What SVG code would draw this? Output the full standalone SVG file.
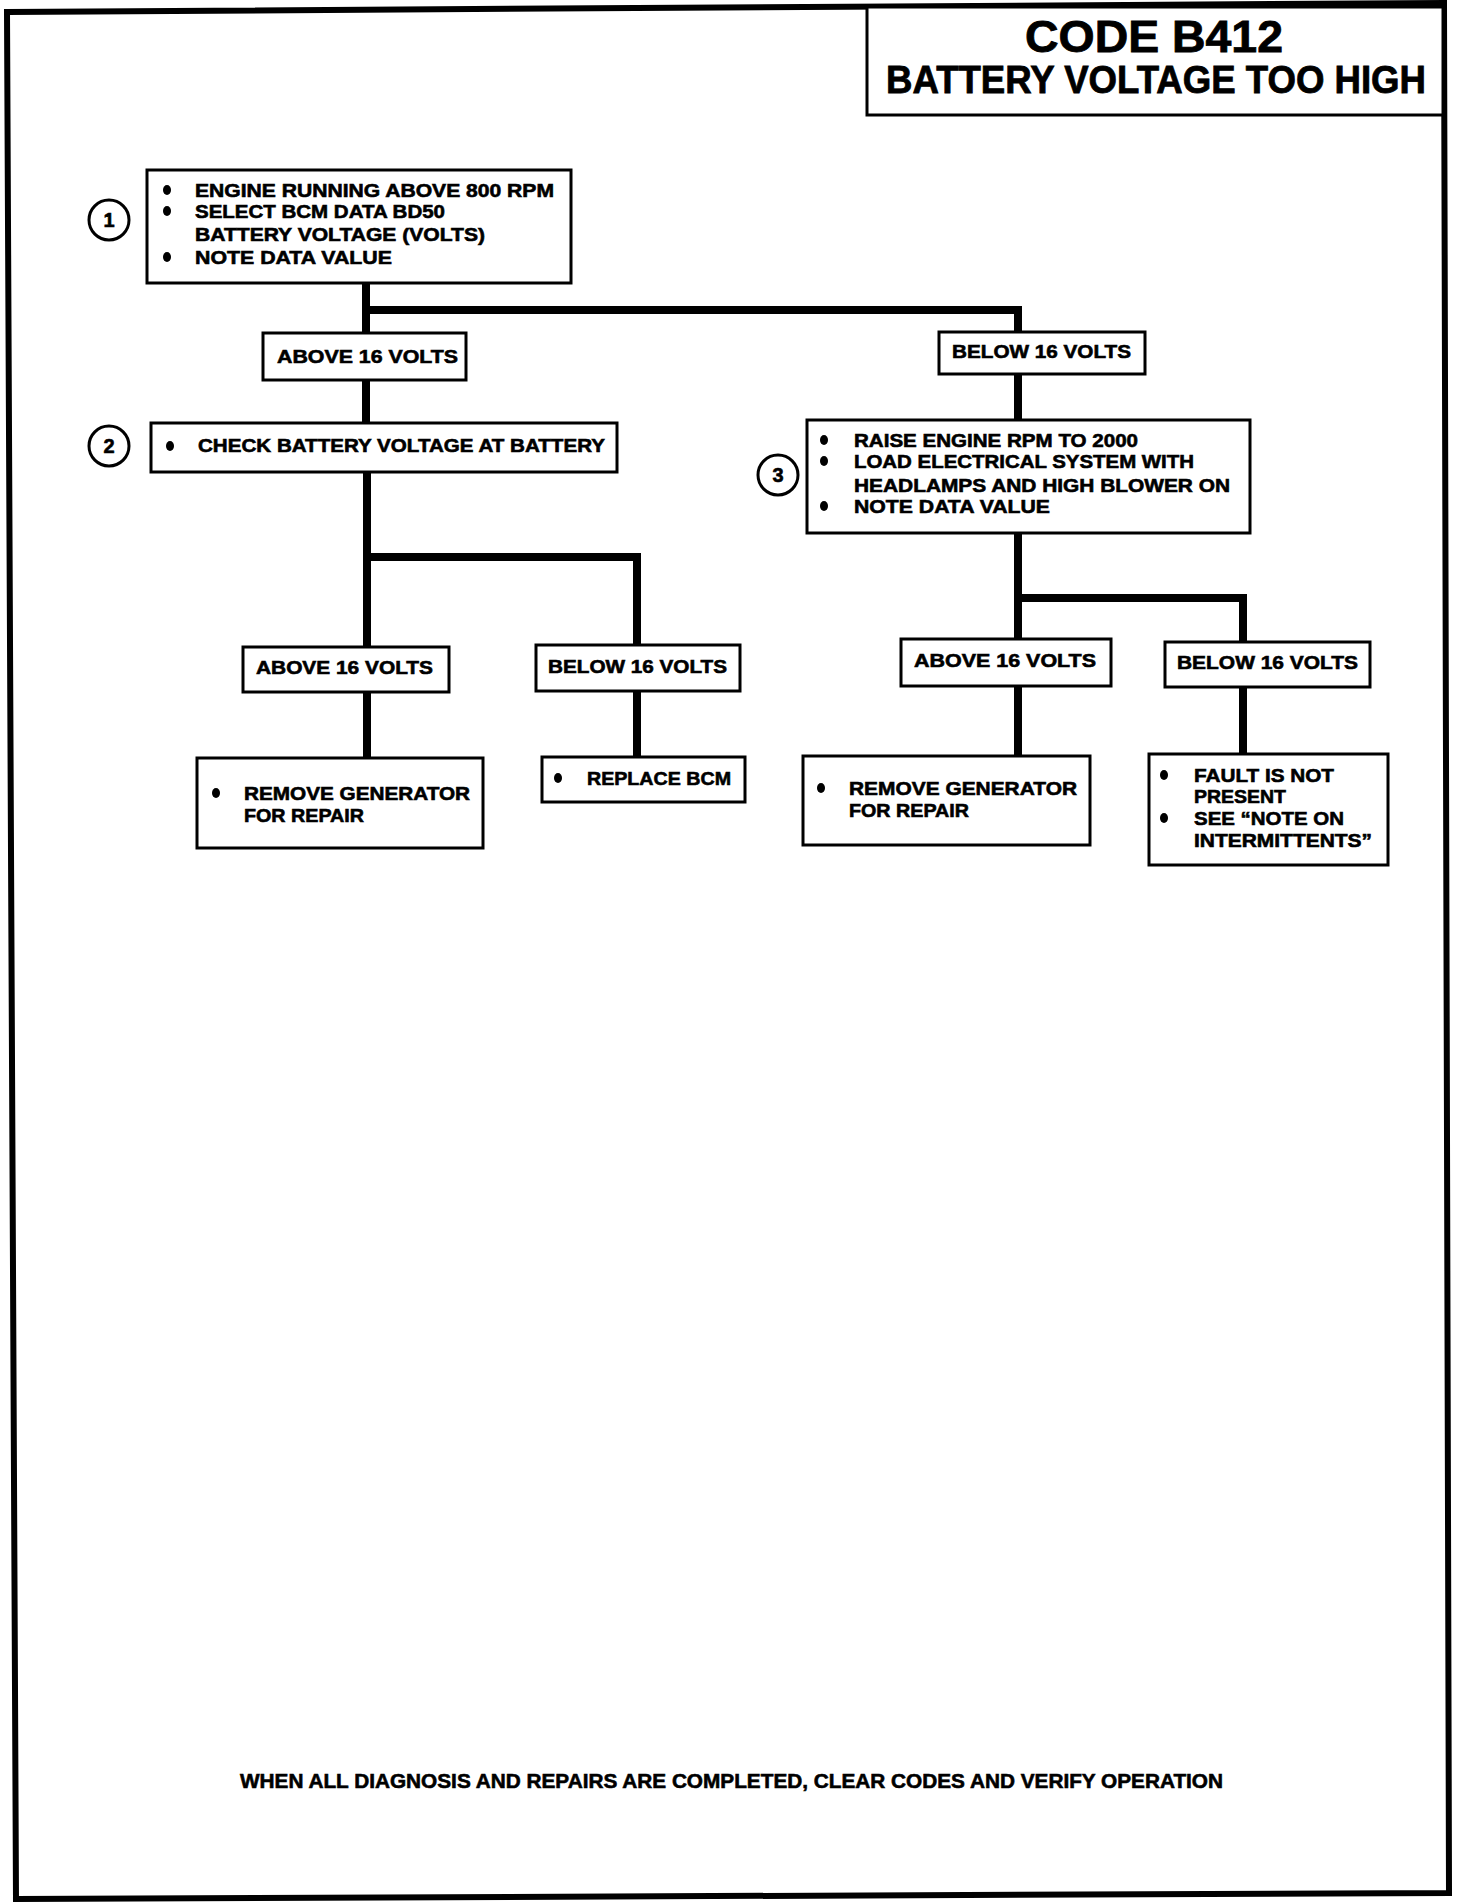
<svg xmlns="http://www.w3.org/2000/svg" width="1472" height="1902" viewBox="0 0 1472 1902">
<style>
  .t { font-family: "Liberation Sans", Arial, sans-serif; font-weight: 700; font-size: 19px; fill: #000; stroke: #000; stroke-width: 0.6; }
  .title { font-size: 44px; stroke-width: 0.8; }
  .sub { font-size: 39px; stroke-width: 0.8; }
  .foot { font-size: 21px; }
  .num { font-size: 20px; text-anchor: middle; }
  .box { fill: #fff; stroke: #000; stroke-width: 3; }
  .conn { fill: none; stroke: #000; stroke-width: 8; stroke-linecap: square; }
  .circ { fill: #fff; stroke: #000; stroke-width: 3; }
  .dot { fill: #000; }
</style>
<rect x="0" y="0" width="1472" height="1902" fill="#fff"/>
<path id="frame" d="M7,12 L1444,3 L1449,1893 L16,1899 Z" fill="none" stroke="#000" stroke-width="6"/>

<g id="connectors">
  <path class="conn" d="M366,283 V423"/>
  <path class="conn" d="M366,310 H1018 V420"/>
  <path class="conn" d="M367,472 V758"/>
  <path class="conn" d="M367,557 H637 V757"/>
  <path class="conn" d="M1018,533 V756"/>
  <path class="conn" d="M1018,598 H1243 V754"/>
</g>

<g id="title">
  <rect class="box" x="867" y="7" width="576" height="108"/>
  <text class="t title" x="1025" y="52" textLength="258" lengthAdjust="spacingAndGlyphs">CODE B412</text>
  <text class="t sub" x="886" y="93" textLength="540" lengthAdjust="spacingAndGlyphs">BATTERY VOLTAGE TOO HIGH</text>
</g>

<g id="step1">
  <circle class="circ" cx="109" cy="220" r="20"/>
  <text class="t num" x="109" y="227">1</text>
  <rect class="box" x="147" y="170" width="424" height="113"/>
  <ellipse class="dot" cx="167" cy="190" rx="4" ry="5"/>
  <ellipse class="dot" cx="167" cy="211" rx="4" ry="5"/>
  <ellipse class="dot" cx="167" cy="257" rx="4" ry="5"/>
  <text class="t" x="195" y="197" textLength="359" lengthAdjust="spacingAndGlyphs">ENGINE RUNNING ABOVE 800 RPM</text>
  <text class="t" x="195" y="218" textLength="250" lengthAdjust="spacingAndGlyphs">SELECT BCM DATA BD50</text>
  <text class="t" x="195" y="241" textLength="290" lengthAdjust="spacingAndGlyphs">BATTERY VOLTAGE (VOLTS)</text>
  <text class="t" x="195" y="264" textLength="197" lengthAdjust="spacingAndGlyphs">NOTE DATA VALUE</text>
</g>

<g id="above1">
  <rect class="box" x="263" y="333" width="203" height="47"/>
  <text class="t" x="277" y="363" textLength="181" lengthAdjust="spacingAndGlyphs">ABOVE 16 VOLTS</text>
</g>

<g id="below1">
  <rect class="box" x="939" y="332" width="206" height="42"/>
  <text class="t" x="952" y="358" textLength="179" lengthAdjust="spacingAndGlyphs">BELOW 16 VOLTS</text>
</g>

<g id="step2">
  <circle class="circ" cx="109" cy="446" r="20"/>
  <text class="t num" x="109" y="453">2</text>
  <rect class="box" x="151" y="423" width="466" height="49"/>
  <ellipse class="dot" cx="170" cy="446" rx="4" ry="5"/>
  <text class="t" x="198" y="452" textLength="407" lengthAdjust="spacingAndGlyphs">CHECK BATTERY VOLTAGE AT BATTERY</text>
</g>

<g id="step3">
  <circle class="circ" cx="778" cy="475" r="20"/>
  <text class="t num" x="778" y="482">3</text>
  <rect class="box" x="807" y="420" width="443" height="113"/>
  <ellipse class="dot" cx="824" cy="440" rx="4" ry="5"/>
  <ellipse class="dot" cx="824" cy="461" rx="4" ry="5"/>
  <ellipse class="dot" cx="824" cy="506" rx="4" ry="5"/>
  <text class="t" x="854" y="447" textLength="284" lengthAdjust="spacingAndGlyphs">RAISE ENGINE RPM TO 2000</text>
  <text class="t" x="854" y="468" textLength="340" lengthAdjust="spacingAndGlyphs">LOAD ELECTRICAL SYSTEM WITH</text>
  <text class="t" x="854" y="492" textLength="376" lengthAdjust="spacingAndGlyphs">HEADLAMPS AND HIGH BLOWER ON</text>
  <text class="t" x="854" y="513" textLength="196" lengthAdjust="spacingAndGlyphs">NOTE DATA VALUE</text>
</g>

<g id="above2">
  <rect class="box" x="243" y="647" width="206" height="45"/>
  <text class="t" x="256" y="674" textLength="177" lengthAdjust="spacingAndGlyphs">ABOVE 16 VOLTS</text>
</g>

<g id="below2">
  <rect class="box" x="536" y="645" width="204" height="46"/>
  <text class="t" x="548" y="673" textLength="179" lengthAdjust="spacingAndGlyphs">BELOW 16 VOLTS</text>
</g>

<g id="remove1">
  <rect class="box" x="197" y="758" width="286" height="90"/>
  <ellipse class="dot" cx="216" cy="793" rx="4" ry="5"/>
  <text class="t" x="244" y="800" textLength="226" lengthAdjust="spacingAndGlyphs">REMOVE GENERATOR</text>
  <text class="t" x="244" y="822" textLength="120" lengthAdjust="spacingAndGlyphs">FOR REPAIR</text>
</g>

<g id="replace">
  <rect class="box" x="542" y="757" width="203" height="45"/>
  <ellipse class="dot" cx="558" cy="778" rx="4" ry="5"/>
  <text class="t" x="587" y="785" textLength="144" lengthAdjust="spacingAndGlyphs">REPLACE BCM</text>
</g>

<g id="above3">
  <rect class="box" x="901" y="639" width="210" height="47"/>
  <text class="t" x="914" y="667" textLength="182" lengthAdjust="spacingAndGlyphs">ABOVE 16 VOLTS</text>
</g>

<g id="below3">
  <rect class="box" x="1165" y="642" width="205" height="45"/>
  <text class="t" x="1177" y="669" textLength="181" lengthAdjust="spacingAndGlyphs">BELOW 16 VOLTS</text>
</g>

<g id="remove2">
  <rect class="box" x="803" y="756" width="287" height="89"/>
  <ellipse class="dot" cx="821" cy="788" rx="4" ry="5"/>
  <text class="t" x="849" y="795" textLength="228" lengthAdjust="spacingAndGlyphs">REMOVE GENERATOR</text>
  <text class="t" x="849" y="817" textLength="120" lengthAdjust="spacingAndGlyphs">FOR REPAIR</text>
</g>

<g id="fault">
  <rect class="box" x="1149" y="754" width="239" height="111"/>
  <ellipse class="dot" cx="1164" cy="775" rx="4" ry="5"/>
  <ellipse class="dot" cx="1164" cy="818" rx="4" ry="5"/>
  <text class="t" x="1194" y="782" textLength="140" lengthAdjust="spacingAndGlyphs">FAULT IS NOT</text>
  <text class="t" x="1194" y="803" textLength="92" lengthAdjust="spacingAndGlyphs">PRESENT</text>
  <text class="t" x="1194" y="825" textLength="150" lengthAdjust="spacingAndGlyphs">SEE “NOTE ON</text>
  <text class="t" x="1194" y="847" textLength="178" lengthAdjust="spacingAndGlyphs">INTERMITTENTS”</text>
</g>

<g id="footer">
  <text class="t foot" x="240" y="1788" textLength="983" lengthAdjust="spacingAndGlyphs">WHEN ALL DIAGNOSIS AND REPAIRS ARE COMPLETED, CLEAR CODES AND VERIFY OPERATION</text>
</g>
</svg>
